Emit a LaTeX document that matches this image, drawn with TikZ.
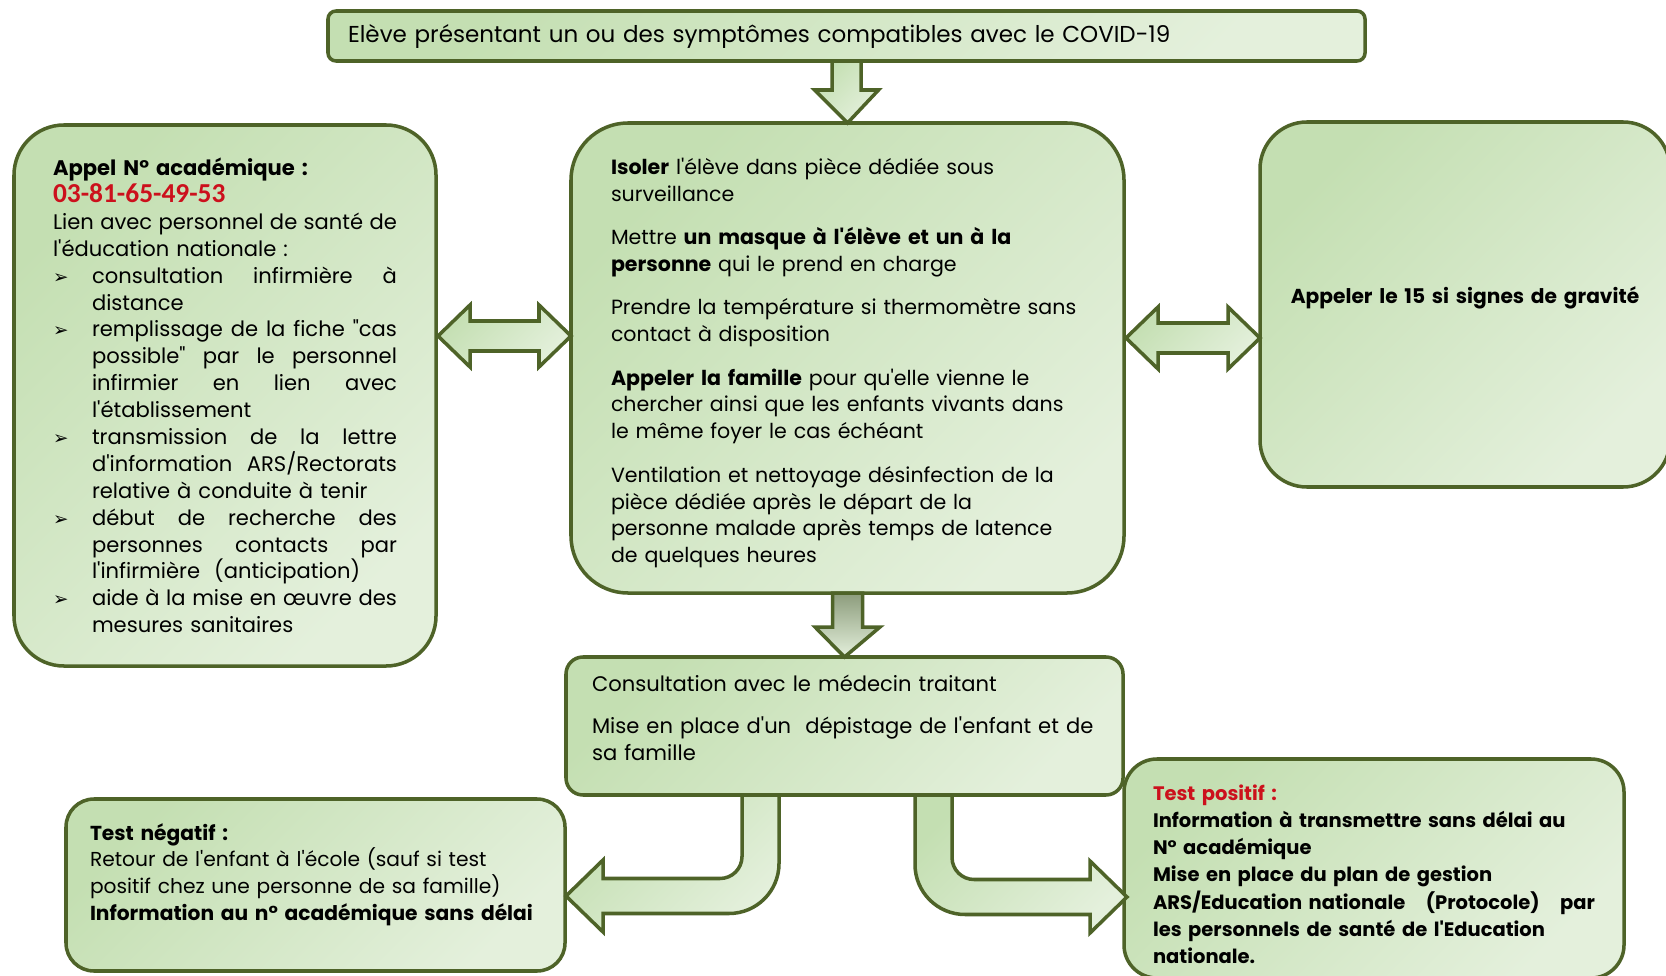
\documentclass[tikz,border=0pt]{standalone}
\usepackage{fontspec}
\setmainfont{Poppins}[Ligatures=TeXOff]
\newfontfamily\telfont{Carlito}
\newfontfamily\symfont{DejaVu Sans}
\usetikzlibrary{calc}

\definecolor{vertfonce}{RGB}{78,99,40}
\definecolor{vertmoyen}{RGB}{196,223,178}
\definecolor{vertpale}{RGB}{228,240,220}
\definecolor{grisvert}{RGB}{140,156,124}
\definecolor{rouge}{RGB}{204,16,28}

% lignes justifiees et puces de la liste
\newcommand{\ligne}[1]{\makebox[\hsize][s]{#1}}
\newcommand{\puce}[1]{\makebox[7.8mm][l]{{\symfont\fontsize{10.5}{10}\selectfont ➢}}\makebox[\dimexpr\hsize-7.8mm\relax][s]{#1}}
\newcommand{\suite}[1]{\hspace*{7.8mm}#1}
\newcommand{\suitej}[1]{\hspace*{7.8mm}\makebox[\dimexpr\hsize-7.8mm\relax][s]{#1}}

\tikzset{
  cadre/.style={draw=vertfonce, line width=2pt, top color=vertmoyen, bottom color=vertpale,
    shading angle=45, anchor=north west, outer sep=0pt, inner ysep=0pt, align=left,
    font=\fontsize{12}{15.3}\selectfont},
  fleche/.style={draw=vertfonce, line width=2pt, top color=vertmoyen, bottom color=vertpale,
    shading angle=45, line join=miter},
  flechegrise/.style={fleche, top color=grisvert, bottom color=vertpale, shading angle=0},
}

\begin{document}
\begin{tikzpicture}[x=0.2mm, y=-0.2mm]

	\useasboundingbox (0,0) rectangle (1666,976);
	\clip (0,0) rectangle (1666,976);
	\fill[white] (0,0) rectangle (1666,976);

	% cadres
	\node[cadre, rounded corners=1.6mm, text width=199.4mm, inner xsep=4mm, minimum height=10mm,
		font=\fontsize{13.1}{15.3}\selectfont] (eleve) at (328,11)
		{Elève présentant un ou des symptômes compatibles avec le COVID-19};
	\node[cadre, rounded corners=10mm, text width=68.8mm, inner xsep=7.8mm, minimum height=108.2mm] (appel) at (14,125)
		{\textbf{Appel N° académique :}\\
		{\telfont\bfseries\fontsize{15.6}{15}\selectfont\color{rouge}03-81-65-49-53}\\
		\ligne{Lien\hfill avec\hfill personnel\hfill de\hfill santé\hfill de}\\
		l'éducation nationale :\\
		\puce{consultation\hfill infirmière\hfill à}\\
		\suite{distance}\\
		\puce{remplissage\hfill de\hfill la\hfill fiche\hfill "cas}\\
		\suitej{possible"\hfill par\hfill le\hfill personnel}\\
		\suitej{infirmier\hfill en\hfill lien\hfill avec}\\
		\suite{l'établissement}\\
		\puce{transmission\hfill de\hfill la\hfill lettre}\\
		\suitej{d'information\hfill ARS/Rectorats}\\
		\suite{relative à conduite à tenir}\\
		\puce{début\hfill de\hfill recherche\hfill des}\\
		\suitej{personnes\hfill contacts\hfill par}\\
		\suite{l'infirmière\ \ (anticipation)}\\
		\puce{aide\hfill à\hfill la\hfill mise\hfill en\hfill œuvre\hfill des}\\
		\suite{mesures sanitaires}};
	\node[cadre, rounded corners=11.4mm, text width=94.6mm, inner xsep=8mm, minimum height=94mm,
		font=\fontsize{11.7}{15.3}\selectfont] (isoler) at (571,123)
		{\mbox{}\\
		\textbf{Isoler} l'élève dans pièce dédiée sous\\
		surveillance\\[9.3pt]
		Mettre \textbf{un masque à l'élève et un à la}\\
		\textbf{personne} qui le prend en charge\\[9.3pt]
		Prendre la température si thermomètre sans\\
		contact à disposition\\[9.3pt]
		\textbf{Appeler la famille} pour qu'elle vienne le\\
		chercher ainsi que les enfants vivants dans\\
		le même foyer le cas échéant\\[9.3pt]
		Ventilation et nettoyage désinfection de la\\
		pièce dédiée après le départ de la\\
		personne malade après temps de latence\\
		de quelques heures};
	\node[cadre, rounded corners=9.4mm, text width=76mm, inner xsep=3mm, minimum height=73mm, align=center,
		font=\fontsize{11.5}{15.2}\selectfont] (samu) at (1260,122)
		{\textbf{Appeler le 15 si signes de gravité}\\[-4pt]\mbox{}};
	\node[cadre, rounded corners=3.4mm, text width=101mm, inner xsep=5.2mm, minimum height=27.6mm] (medecin) at (566,657)
		{Consultation avec le médecin traitant\\[9pt]
		Mise en place d'un\ \ dépistage de l'enfant et de\\
		sa famille\\[-6pt]\mbox{}};
	\node[cadre, rounded corners=5.6mm, text width=90.2mm, inner xsep=4.8mm, minimum height=34.4mm,
		font=\fontsize{11.5}{15.2}\selectfont] (negatif) at (66,799)
		{\textbf{Test négatif :}\\
		Retour de l'enfant à l'école (sauf si test\\
		positif chez une personne de sa famille)\\
		\textbf{Information au n° académique sans délai}\\
		\mbox{}};
	\node[cadre, rounded corners=6.6mm, text width=88.4mm, inner xsep=5.8mm, minimum height=43.8mm,
		font=\fontsize{11.1}{15.4}\selectfont] (positif) at (1124,759)
		{\bfseries\mbox{}\\
		{\color{rouge}Test positif :}\\
		Information à transmettre sans délai au\\
		N° académique\\
		Mise en place du plan de gestion\\
		\ligne{ARS/Education nationale\hfill(Protocole)\hfill par}\\
		les personnels de santé de l'Education\\
		nationale.};

	% fleches droites
	\draw[fleche] ($(eleve.south)+(-14.5,0)$) -- ++(0,29) -- ++(-17.5,0) -- (isoler.north)
		-- ($(eleve.south)+(32,29)$) -- ++(-17.5,0) -- ($(eleve.south)+(14.5,0)$) -- cycle;
	\draw[flechegrise] ($(isoler.south)+(-15,0)$) -- ++(0,34) -- ++(-17.5,0) -- (medecin.north)
		-- ($(isoler.south)+(32.5,34)$) -- ++(-17.5,0) -- ($(isoler.south)+(15,0)$) -- cycle;

	% fleches doubles
	\coordinate (la) at ($(appel.north east)+(2,211)$);
	\coordinate (lb) at (isoler.west |- la);
	\draw[fleche] (la) -- ++(32,-31) -- ++(0,16) -- ($(lb)+(-32,-15)$) -- ++(0,-16) -- (lb)
		-- ++(-32,31) -- ++(0,-16) -- ($(la)+(32,15)$) -- ++(0,16) -- cycle;
	\coordinate (ra) at ($(isoler.north east)+(2,215)$);
	\coordinate (rb) at (samu.west |- ra);
	\draw[fleche] (ra) -- ++(32,-31) -- ++(0,16) -- ($(rb)+(-32,-15)$) -- ++(0,-16) -- (rb)
		-- ++(-32,31) -- ++(0,-16) -- ($(ra)+(32,15)$) -- ++(0,16) -- cycle;

	% fleches coudees
	\coordinate (lt) at ($(negatif.north east)+(1,97)$);
	\coordinate (rt) at ($(positif.north west)+(3,138)$);
	\coordinate (l1) at ($(medecin.south)+(-65.5,0)$);
	\coordinate (l2) at ($(medecin.south)+(-102.5,0)$);
	\coordinate (r1) at ($(medecin.south)+(70.5,0)$);
	\coordinate (r2) at ($(medecin.south)+(107.5,0)$);
	\draw[fleche] (r1) -- (r2) [rounded corners=4.4mm] -- ($(r2 |- rt)+(0,-17.5)$) [sharp corners]
		-- ($(rt)+(-37,-17.5)$) -- ($(rt)+(-37,-36)$) -- (rt) -- ($(rt)+(-37,36)$) -- ($(rt)+(-37,17.5)$)
		[rounded corners=10mm] -- ($(r1 |- rt)+(0,17.5)$) [sharp corners] -- cycle;
	\draw[fleche] (l1) -- (l2) [rounded corners=4.4mm] -- ($(l2 |- lt)+(0,-17.5)$) [sharp corners]
		-- ($(lt)+(37,-17.5)$) -- ($(lt)+(37,-36)$) -- (lt) -- ($(lt)+(37,36)$) -- ($(lt)+(37,17.5)$)
		[rounded corners=10mm] -- ($(l1 |- lt)+(0,17.5)$) [sharp corners] -- cycle;

\end{tikzpicture}
\end{document}
